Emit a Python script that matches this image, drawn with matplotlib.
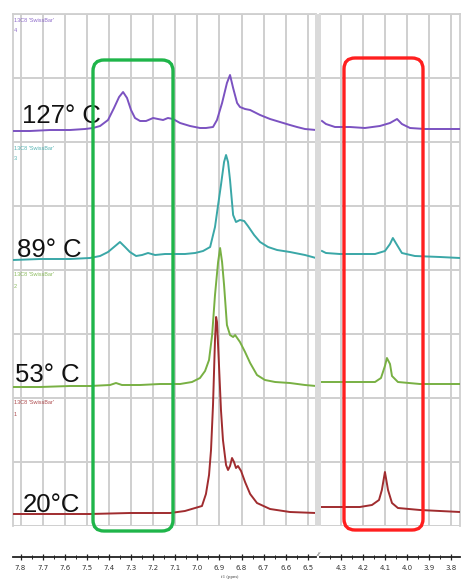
import matplotlib
matplotlib.use("Agg")
import matplotlib.pyplot as plt
from matplotlib.ticker import MultipleLocator, FormatStrFormatter
from matplotlib.patches import FancyBboxPatch, Rectangle

# ---------------- data (ppm, intensity in arbitrary units) ----------------
temps = ["127° C", "89° C", "53° C", "20°C"]
trace_ids = ["4", "3", "2", "1"]
sample_name = "13C8 'SwissBar'"

# 127 C (purple)
p_left_ppm = [7.834, 7.757, 7.667, 7.576, 7.508, 7.472, 7.440, 7.404, 7.377, 7.354, 7.336, 7.318,
              7.300, 7.282, 7.259, 7.232, 7.200, 7.178, 7.155, 7.133, 7.110, 7.078, 7.033, 6.988,
              6.961, 6.929, 6.911, 6.888, 6.866, 6.852, 6.838, 6.820, 6.807, 6.784, 6.761, 6.716,
              6.671, 6.626, 6.581, 6.549, 6.513, 6.463]
p_left_int = [0, 0, 1, 1, 2, 3, 5, 11, 23, 34, 39, 33,
              21, 13, 10, 10, 13, 12, 11, 13, 12, 8, 5, 3,
              3, 4, 11, 28, 48, 56, 43, 28, 24, 22, 21, 16,
              12, 9, 6, 4, 2, 1]
p_right_ppm = [4.386, 4.368, 4.327, 4.259, 4.191, 4.123, 4.077, 4.045, 4.023, 3.986, 3.918, 3.850, 3.759]
p_right_int = [10, 7, 4, 4, 3, 5, 8, 12, 7, 3, 2, 2, 2]

# 89 C (teal)
t_left_ppm = [7.834, 7.712, 7.576, 7.486, 7.440, 7.404, 7.377, 7.350, 7.327, 7.305, 7.277, 7.250,
              7.223, 7.191, 7.146, 7.101, 7.056, 7.010, 6.974, 6.942, 6.920, 6.906, 6.893, 6.879,
              6.870, 6.861, 6.852, 6.838, 6.825, 6.807, 6.788, 6.771, 6.743, 6.716, 6.680, 6.639,
              6.581, 6.513, 6.463]
t_left_int = [-1, 0, 0, 1, 3, 7, 12, 17, 12, 7, 3, 4,
              6, 4, 5, 5, 5, 6, 8, 12, 32, 54, 74, 97,
              104, 97, 79, 44, 37, 39, 38, 33, 24, 17, 12, 9,
              7, 4, 1]
t_right_ppm = [4.386, 4.368, 4.305, 4.214, 4.145, 4.100, 4.077, 4.064, 4.045, 4.023, 3.964, 3.850, 3.759]
t_right_int = [8, 6, 5, 5, 5, 8, 15, 21, 14, 6, 3, 2, 1]

# 53 C (green)
g_left_ppm = [7.834, 7.712, 7.576, 7.486, 7.395, 7.368, 7.341, 7.259, 7.169, 7.078, 7.024, 6.988,
              6.965, 6.947, 6.933, 6.920, 6.906, 6.897, 6.888, 6.879, 6.866, 6.852, 6.838, 6.829,
              6.807, 6.784, 6.761, 6.730, 6.694, 6.648, 6.581, 6.513, 6.463]
g_left_int = [-1, -1, 0, 0, 1, 3, 1, 1, 2, 2, 4, 8,
              15, 26, 51, 91, 124, 138, 124, 101, 61, 51, 49, 51,
              44, 34, 23, 11, 6, 4, 3, 1, 0]
g_right_ppm = [4.386, 4.305, 4.214, 4.145, 4.118, 4.100, 4.091, 4.077, 4.068, 4.041, 3.941, 3.759]
g_right_int = [4, 4, 4, 4, 8, 20, 28, 22, 10, 4, 2, 2]

# 20 C (dark red)
r_left_ppm = [7.834, 7.667, 7.486, 7.305, 7.123, 7.056, 7.010, 6.979, 6.961, 6.947, 6.938, 6.929,
              6.920, 6.915, 6.911, 6.902, 6.893, 6.884, 6.870, 6.861, 6.852, 6.843, 6.834, 6.825,
              6.816, 6.802, 6.784, 6.761, 6.730, 6.671, 6.581, 6.463]
r_left_int = [0, 0, 0, 1, 1, 3, 6, 8, 20, 39, 64, 109,
              174, 197, 192, 149, 104, 74, 49, 44, 48, 56, 52, 46,
              48, 43, 32, 20, 11, 5, 2, 1]
r_right_ppm = [4.386, 4.305, 4.214, 4.159, 4.127, 4.114, 4.100, 4.086, 4.068, 4.041, 3.941, 3.759]
r_right_int = [7, 7, 7, 9, 14, 24, 42, 24, 11, 6, 4, 2]

left_ticks = [7.8, 7.7, 7.6, 7.5, 7.4, 7.3, 7.2, 7.1, 7.0, 6.9, 6.8, 6.7, 6.6, 6.5]
right_ticks = [4.3, 4.2, 4.1, 4.0, 3.9, 3.8]

# ---------------- styling ----------------
colors = ["#7b52c1", "#3aa7a7", "#78b043", "#a02c2f"]
offsets = [395, 267, 140, 12]
traces = [
    (p_left_ppm, p_left_int, p_right_ppm, p_right_int),
    (t_left_ppm, t_left_int, t_right_ppm, t_right_int),
    (g_left_ppm, g_left_int, g_right_ppm, g_right_int),
    (r_left_ppm, r_left_int, r_right_ppm, r_right_int),
]

W, H = 462, 581
fig = plt.figure(figsize=(W / 100, H / 100), dpi=100)
fig.patch.set_facecolor("white")

def frac(x0, y0, x1, y1):
    return [x0 / W, 1 - y1 / H, (x1 - x0) / W, (y1 - y0) / H]

axL = fig.add_axes(frac(13, 14, 316, 526))
axR = fig.add_axes(frac(320, 14, 460, 526))

grid_c = "#cfcfcf"
for ax, lim, ticks in [(axL, (7.834, 6.463), left_ticks), (axR, (4.395, 3.759), right_ticks)]:
    ax.set_xlim(*lim)
    ax.set_ylim(0, 512)
    ax.set_xticks(ticks)
    ax.xaxis.set_minor_locator(MultipleLocator(0.05))
    ax.xaxis.set_major_formatter(FormatStrFormatter("%.1f"))
    ax.set_yticks(range(0, 513, 64))
    ax.tick_params(axis="y", left=False, labelleft=False)
    ax.tick_params(axis="x", which="major", direction="inout", length=5, width=0.9,
                   color="#222222", labelsize=5, pad=3, labelcolor="#333333")
    ax.tick_params(axis="x", which="minor", direction="inout", length=2.5, width=0.7, color="#222222")
    for lbl in ax.get_xticklabels():
        lbl.set_family("Liberation Serif")
    ax.grid(True, which="major", color=grid_c, linewidth=1.4, zorder=0)
    ax.set_axisbelow(True)
    ax.spines["bottom"].set_position(("outward", 22.3))
    ax.spines["bottom"].set_color("#222222")
    ax.spines["bottom"].set_linewidth(1.3)
    for s in ["top", "left", "right"]:
        ax.spines[s].set_color(grid_c)
        ax.spines[s].set_linewidth(1.3)
axL.spines["right"].set_visible(False)
axR.spines["left"].set_visible(False)

for (lp, li, rp, ri), c, off in zip(traces, colors, offsets):
    axL.plot(lp, [v + off for v in li], color=c, lw=1.4, zorder=3, solid_joinstyle="round")
    axR.plot(rp, [v + off for v in ri], color=c, lw=1.4, zorder=3, solid_joinstyle="round")

# axis break band
fig.patches.append(Rectangle((315 / W, 1 - 526 / H), 6 / W, 512 / H, transform=fig.transFigure,
                             facecolor="#dadada", edgecolor="none", zorder=1))
fig.text(318 / W, 1 - 555 / H, "//", fontsize=5, ha="center", va="center",
         style="italic", family="Liberation Serif", color="#222222")
fig.text(230 / W, 1 - 577 / H, "f1 (ppm)", fontsize=3.5, ha="center", va="center",
         family="Liberation Serif", color="#444444")

# temperature labels
label_pos = [(22, 123), (17, 257), (15, 382), (23, 512)]
for t, (x, y) in zip(temps, label_pos):
    fig.text(x / W, 1 - y / H, t, fontsize=18.5, family="Liberation Sans",
             ha="left", va="baseline", color="#111111", zorder=5)

# small trace labels
small_pos = [(14, 20, 31), (14, 148, 159), (14, 275, 287), (14, 402, 414)]
for tid, c, (x, y1, y2) in zip(trace_ids, colors, small_pos):
    fig.text(x / W, 1 - y1 / H, sample_name, fontsize=4, family="Liberation Sans",
             ha="left", va="center", color=c, alpha=0.85)
    fig.text(x / W, 1 - y2 / H, tid, fontsize=4, family="Liberation Sans",
             ha="left", va="center", color=c, alpha=0.85)

# highlight boxes (in inches so the corner rounding stays circular)
def box(x0, y0, x1, y1, color):
    p = FancyBboxPatch((x0 / 100, (H - y1) / 100), (x1 - x0) / 100, (y1 - y0) / 100,
                       boxstyle="round,pad=0,rounding_size=0.11",
                       transform=fig.dpi_scale_trans, facecolor="none",
                       edgecolor=color, linewidth=2.4, zorder=6)
    fig.patches.append(p)

box(93, 60, 173, 531, "#1fb54a")
box(344, 58, 423, 530, "#ff1f1f")

fig.savefig("out.png", dpi=100)
